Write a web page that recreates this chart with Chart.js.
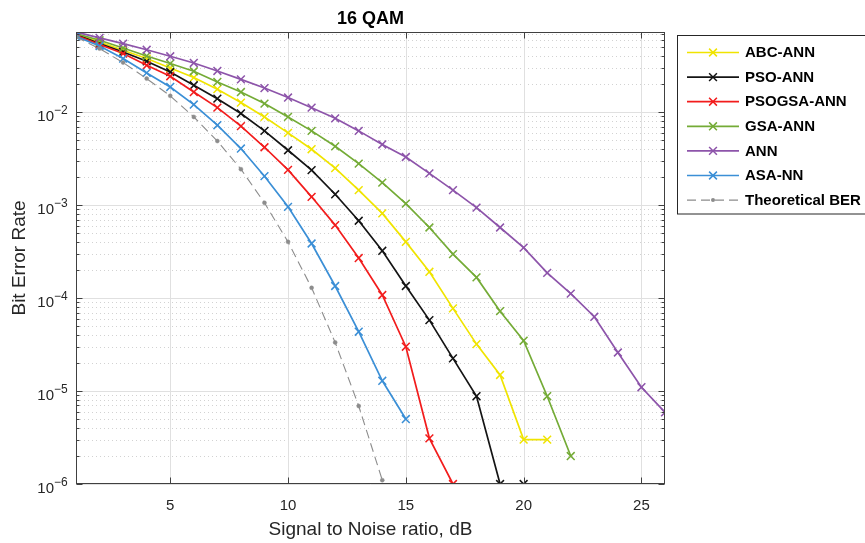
<!DOCTYPE html>
<html>
<head>
<meta charset="utf-8">
<script src="https://cdn.jsdelivr.net/npm/chart.js@4.4.0/dist/chart.umd.min.js"></script>
<style>html,body{margin:0;padding:0;background:#fff;}canvas{display:block;}</style>
</head>
<body>
<canvas id="c" width="865" height="543"></canvas>
<script>
// ---------- data ----------
const snr = [1,2,3,4,5,6,7,8,9,10,11,12,13,14,15,16,17,18,19,20,21,22,23,24,25,26];

const abcAnn = [0.0690,0.0570,0.0464,0.0378,0.0299,0.0236,0.0177,0.0127,0.0089,0.0060,0.0040,0.0025,0.00145,0.000815,0.000403,0.000192,7.75e-5,3.2e-5,1.49e-5,3.0e-6,3.0e-6];
const psoAnn = [0.0685,0.0548,0.0445,0.0353,0.0271,0.0195,0.0140,0.0097,0.0063,0.0039,0.00238,0.00131,0.00068,0.000323,0.000135,5.8e-5,2.25e-5,8.8e-6,1.0e-6,1.0e-6];
const psogsaAnn = [0.0673,0.0535,0.0428,0.0320,0.0244,0.0165,0.0112,0.0071,0.0042,0.0024,0.00123,0.00061,0.00027,0.000108,3.0e-5,3.1e-6,1.0e-6];
const gsaAnn = [0.0702,0.0595,0.0491,0.0403,0.0334,0.0276,0.0212,0.0165,0.0124,0.0089,0.0063,0.0043,0.0028,0.00175,0.00104,0.000575,0.000297,0.000167,7.24e-5,3.48e-5,8.8e-6,2.0e-6];
const ann = [0.0730,0.0630,0.0548,0.0470,0.0400,0.0339,0.0278,0.0226,0.0182,0.0144,0.0112,0.0086,0.0063,0.0045,0.0033,0.0022,0.00145,0.00094,0.000575,0.00035,0.000187,0.000112,6.3e-5,2.6e-5,1.1e-5,5.9e-6];
const asaNn = [0.0657,0.0516,0.0378,0.0265,0.0187,0.0121,0.00725,0.00407,0.00205,0.00096,0.000387,0.000135,4.35e-5,1.29e-5,5.0e-6];
const theoreticalBer = [0.0645,0.0484,0.0342,0.0230,0.0150,0.0089,0.0049,0.00244,0.00106,0.000403,0.000129,3.34e-5,6.9e-6,1.1e-6];

const seriesNames = ['ABC-ANN','PSO-ANN','PSOGSA-ANN','GSA-ANN','ANN','ASA-NN','Theoretical BER'];
const seriesValues = [abcAnn, psoAnn, psogsaAnn, gsaAnn, ann, asaNn, theoreticalBer];
const seriesColors = ['#f0e400','#141414','#f21c1c','#74ab36','#8d54aa','#3b8fd6','#8c8c8c'];

const xTickValues = [5,10,15,20,25];
const yDecades = [-6,-5,-4,-3,-2];
const yMin = 1e-6, yMax = 0.073;
const xMin = 1, xMax = 26;
const titleText = '16 QAM';
const xTitle = 'Signal to Noise ratio, dB';
const yTitle = 'Bit Error Rate';

// ---------- chart ----------
const FONT = '"Liberation Sans", Arial, Helvetica, sans-serif';
const AXIS = '#262626';

const datasets = seriesNames.map((name, i) => {
  const theo = i === seriesNames.length - 1;
  return {
    label: name,
    data: seriesValues[i].map((v, k) => ({x: snr[k], y: v})),
    borderColor: seriesColors[i],
    backgroundColor: seriesColors[i],
    borderWidth: theo ? 1.1 : 1.7,
    borderDash: theo ? [9, 5] : [],
    pointStyle: theo ? 'circle' : 'crossRot',
    pointRadius: theo ? 2 : 5.5,
    pointBorderWidth: theo ? 0.5 : 1.5,
    pointHoverRadius: 0,
    tension: 0,
    fill: false,
    order: seriesNames.length - i
  };
});

function hline(ctx, x1, x2, y) { ctx.beginPath(); ctx.moveTo(x1, y); ctx.lineTo(x2, y); ctx.stroke(); }
function vline(ctx, x, y1, y2) { ctx.beginPath(); ctx.moveTo(x, y1); ctx.lineTo(x, y2); ctx.stroke(); }

const matlabPlugin = {
  id: 'matlabLook',
  beforeDatasetsDraw(chart) {
    const {ctx, chartArea: a, scales: {x, y}} = chart;
    ctx.save();
    ctx.lineWidth = 1;
    // minor dotted y grid
    ctx.strokeStyle = '#d2d2d2';
    ctx.setLineDash([1, 3]);
    for (const e of yDecades) {
      for (let m = 2; m <= 9; m++) {
        const v = m * Math.pow(10, e);
        if (v > yMax) continue;
        hline(ctx, a.left, a.right, Math.round(y.getPixelForValue(v)) + 0.5);
      }
    }
    ctx.setLineDash([]);
    // major grid
    ctx.strokeStyle = '#e0e0e0';
    for (const e of yDecades) hline(ctx, a.left, a.right, Math.round(y.getPixelForValue(Math.pow(10, e))) + 0.5);
    for (const t of xTickValues) vline(ctx, Math.round(x.getPixelForValue(t)) + 0.5, a.top, a.bottom);
    ctx.restore();
  },
  afterDatasetsDraw(chart) {
    const {ctx, chartArea: a, scales: {x, y}} = chart;
    ctx.save();
    ctx.strokeStyle = '#404040';
    ctx.lineWidth = 1;
    const L = Math.round(a.left) + 0.5, R = Math.round(a.right) - 0.5;
    const T = Math.round(a.top) + 0.5, B = Math.round(a.bottom) - 0.5;
    ctx.strokeRect(L, T, R - L, B - T);
    // x ticks (inside, top and bottom)
    for (const t of xTickValues) {
      const px = Math.round(x.getPixelForValue(t)) + 0.5;
      vline(ctx, px, B, B - 6);
      vline(ctx, px, T, T + 6);
    }
    // y ticks major + minor
    for (const e of yDecades) {
      const py = Math.round(y.getPixelForValue(Math.pow(10, e))) + 0.5;
      hline(ctx, L, L + 6, py); hline(ctx, R, R - 6, py);
      for (let m = 2; m <= 9; m++) {
        const v = m * Math.pow(10, e);
        if (v > yMax) continue;
        const pm = Math.round(y.getPixelForValue(v)) + 0.5;
        hline(ctx, L, L + 3, pm); hline(ctx, R, R - 3, pm);
      }
    }
    // y tick labels 10^e
    ctx.fillStyle = AXIS;
    for (const e of yDecades) {
      const gy = y.getPixelForValue(Math.pow(10, e));
      ctx.textBaseline = 'alphabetic';
      ctx.font = '15px ' + FONT;
      ctx.textAlign = 'right';
      ctx.fillText('10', 54, gy + 8.5);
      ctx.font = '12px ' + FONT;
      ctx.textAlign = 'left';
      ctx.fillText('\u2212' + Math.abs(e), 54, gy + 2);
    }
    // title
    ctx.font = 'bold 18px ' + FONT;
    ctx.textAlign = 'center';
    ctx.textBaseline = 'alphabetic';
    ctx.fillStyle = '#000';
    ctx.fillText(titleText, (a.left + a.right) / 2, 24);
    // legend
    const lx = 677.5, ly = 35.5, lw = 210, lh = 178.5;
    ctx.fillStyle = '#fff';
    ctx.fillRect(lx, ly, lw, lh);
    ctx.strokeStyle = AXIS;
    ctx.strokeRect(lx, ly, lw, lh);
    chart.data.datasets.forEach((ds, i) => {
      const ry = 52.5 + i * 24.6;
      ctx.strokeStyle = ds.borderColor;
      ctx.lineWidth = ds.borderWidth;
      ctx.setLineDash(ds.borderDash || []);
      hline(ctx, 687, 739, ry);
      ctx.setLineDash([]);
      const mx = 713;
      if (ds.pointStyle === 'crossRot') {
        const h = 3.9;
        ctx.lineWidth = 1.5;
        ctx.beginPath();
        ctx.moveTo(mx - h, ry - h); ctx.lineTo(mx + h, ry + h);
        ctx.moveTo(mx - h, ry + h); ctx.lineTo(mx + h, ry - h);
        ctx.stroke();
      } else {
        ctx.fillStyle = ds.backgroundColor;
        ctx.beginPath(); ctx.arc(mx, ry, 2, 0, Math.PI * 2); ctx.fill();
      }
      ctx.fillStyle = '#000';
      ctx.font = 'bold 15px ' + FONT;
      ctx.textAlign = 'left';
      ctx.textBaseline = 'middle';
      ctx.fillText(ds.label, 745, ry + 0.5);
    });
    ctx.restore();
  }
};

new Chart(document.getElementById('c'), {
  type: 'line',
  data: {datasets},
  plugins: [matlabPlugin],
  options: {
    responsive: false,
    animation: false,
    devicePixelRatio: 1,
    layout: {padding: {left: 0, top: 32, right: 200, bottom: 0}},
    plugins: {legend: {display: false}, tooltip: {enabled: false}, title: {display: false}},
    scales: {
      x: {
        type: 'linear', min: xMin, max: xMax, position: 'bottom',
        afterBuildTicks: s => { s.ticks = xTickValues.map(v => ({value: v})); },
        afterFit: s => { s.height = 59; },
        grid: {display: false, drawTicks: false},
        border: {display: false},
        ticks: {color: AXIS, font: {family: FONT, size: 15}, padding: 13, maxRotation: 0, autoSkip: false},
        title: {display: true, text: xTitle, color: AXIS, font: {family: FONT, size: 19}, padding: {top: 0, bottom: 2}}
      },
      y: {
        type: 'logarithmic', min: yMin, max: yMax, position: 'left',
        afterFit: s => { s.width = 76; },
        grid: {display: false, drawTicks: false},
        border: {display: false},
        ticks: {display: false},
        title: {display: true, text: yTitle, color: AXIS, font: {family: FONT, size: 19}, padding: {top: 8, bottom: 0}}
      }
    }
  }
});
</script>
</body>
</html>
